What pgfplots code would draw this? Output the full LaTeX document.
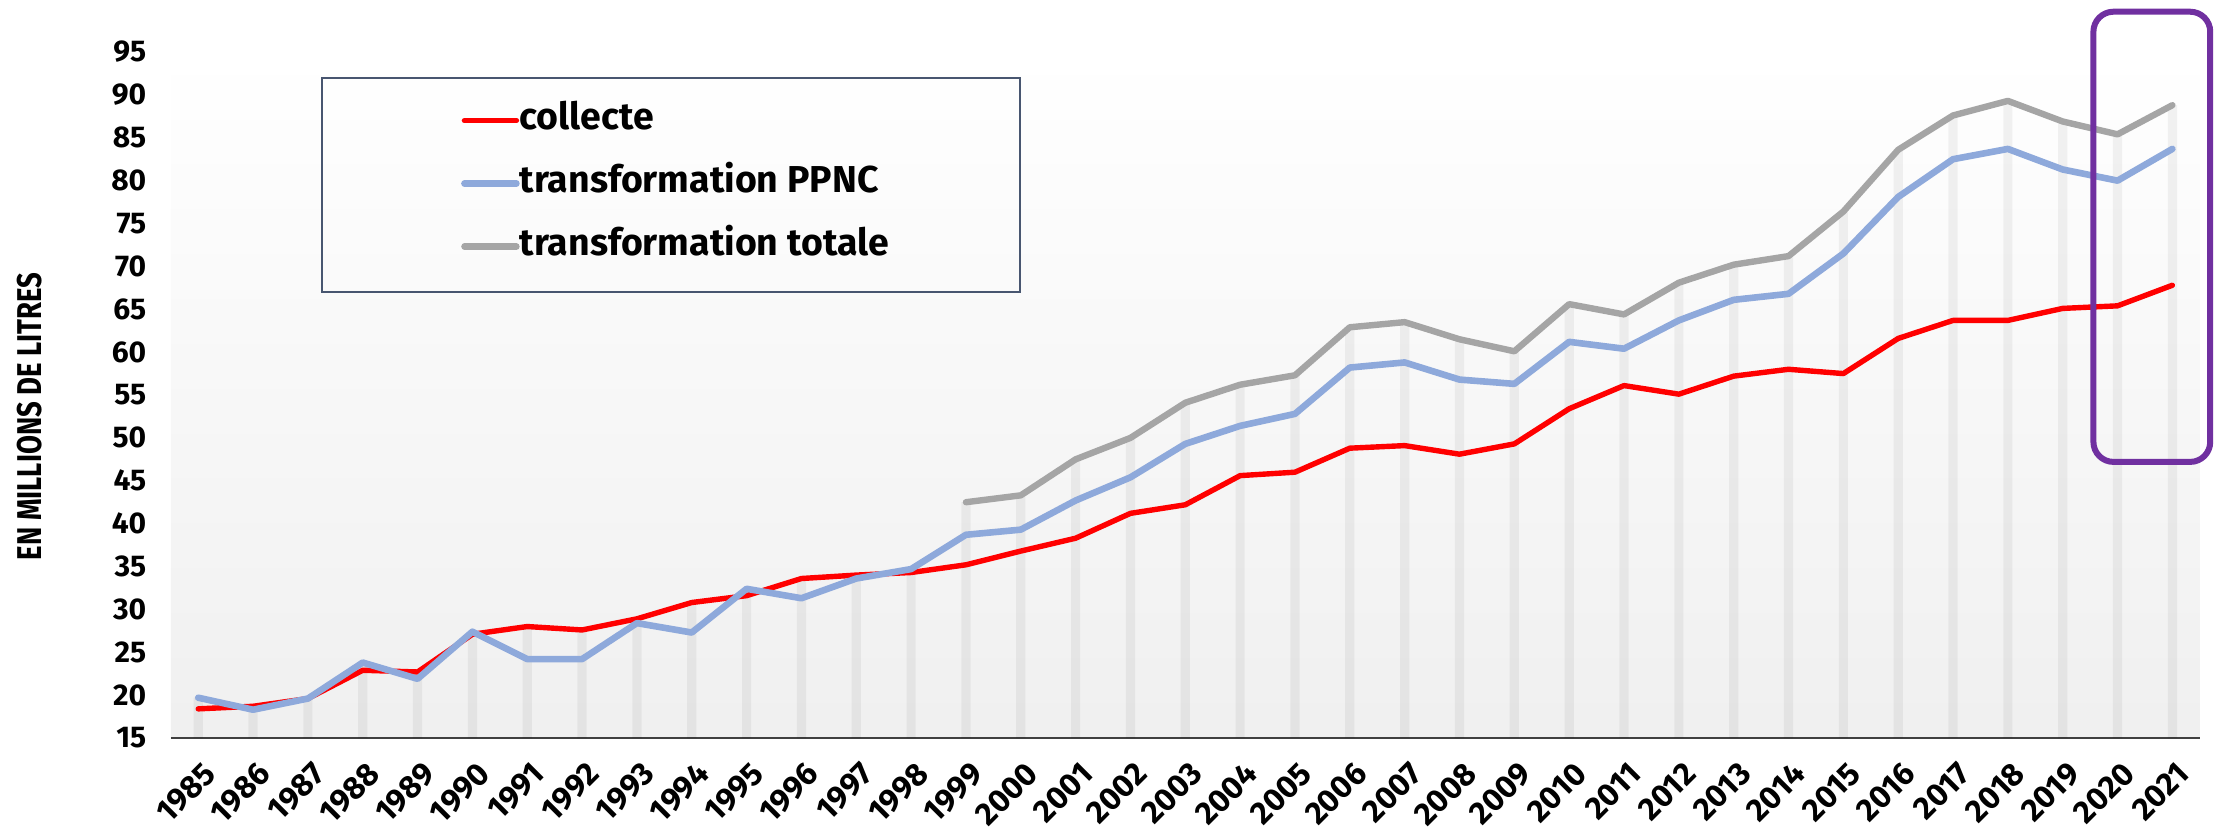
\documentclass[border=0pt]{standalone}
\usepackage{fontspec}
\setmainfont{Fira Sans}
\newfontfamily\narrowsans[FakeStretch=0.8]{Fira Sans}
\usepackage{pgfplots}
\usepackage{pgfplotstable}
\pgfplotsset{compat=1.18}

\definecolor{collred}{HTML}{FF0000}
\definecolor{ppncblue}{HTML}{8EA9DB}
\definecolor{totgray}{HTML}{A5A5A5}
\definecolor{boxpurple}{HTML}{7030A0}
\definecolor{legframe}{HTML}{485670}

% millions de litres
\pgfplotstableread{
year collecte ppnc totale haut
1985 18.4 19.7 nan 19.7
1986 18.7 18.3 nan 18.7
1987 19.6 19.6 nan 19.6
1988 22.9 23.8 nan 23.8
1989 22.7 21.9 nan 22.7
1990 27.1 27.4 nan 27.4
1991 28.0 24.2 nan 28.0
1992 27.6 24.2 nan 27.6
1993 28.9 28.4 nan 28.9
1994 30.8 27.3 nan 30.8
1995 31.6 32.4 nan 32.4
1996 33.6 31.3 nan 33.6
1997 34.0 33.6 nan 34.0
1998 34.3 34.7 nan 34.7
1999 35.2 38.7 42.5 42.5
2000 36.8 39.3 43.3 43.3
2001 38.3 42.7 47.5 47.5
2002 41.2 45.4 50.0 50.0
2003 42.2 49.3 54.1 54.1
2004 45.6 51.4 56.2 56.2
2005 46.0 52.8 57.3 57.3
2006 48.8 58.2 62.9 62.9
2007 49.1 58.8 63.5 63.5
2008 48.1 56.8 61.5 61.5
2009 49.3 56.3 60.1 60.1
2010 53.4 61.2 65.6 65.6
2011 56.1 60.4 64.4 64.4
2012 55.1 63.7 68.1 68.1
2013 57.2 66.1 70.2 70.2
2014 58.0 66.8 71.2 71.2
2015 57.5 71.5 76.4 76.4
2016 61.6 78.1 83.6 83.6
2017 63.7 82.5 87.6 87.6
2018 63.7 83.7 89.3 89.3
2019 65.1 81.3 86.9 86.9
2020 65.4 80.0 85.4 85.4
2021 67.8 83.7 88.8 88.8
}\lait

\begin{document}
\begin{tikzpicture}
\begin{axis}[
  scale only axis,
  width=507.25pt,
  height=171.5pt,
  xmin=1984.5, xmax=2021.5,
  ymin=15, ymax=95,
  xtick={1985,...,2021},
  ytick={15,20,...,95},
  clip mode=individual,
  axis x line*=bottom,
  axis y line*=left,
  y axis line style={draw=none},
  x axis line style={-, black!75, line width=0.6pt},
  major tick length=0pt,
  axis background/.style={shade, top color=white, bottom color=black!6},
  /pgf/number format/1000 sep={},
  /pgf/number format/assume math mode=true,
  yticklabel style={anchor=east, xshift=-2.6pt, font=\fontsize{7.5}{9}\selectfont\bfseries},
  xticklabel style={xshift=3pt, yshift=-1.2pt, rotate=45, anchor=east, inner sep=0pt,
    text depth=0pt, font=\fontsize{8}{9.6}\selectfont\bfseries},
  xticklabel shift=6.2pt,
  ylabel={EN MILLIONS DE LITRES},
  ylabel style={at={(rel axis cs:-0.0694,0.469)}, anchor=center,
    font=\narrowsans\fontsize{8.6}{10}\selectfont\bfseries},
  legend style={at={(rel axis cs:0.1427,0.926)}, anchor=north west,
    draw=none, fill=none, inner sep=0pt, row sep=7.25pt, column sep=0pt,
    font=\fontsize{9.36}{11}\selectfont\bfseries,
    nodes={inner sep=0pt, text height=6.5pt, text depth=2pt}},
  legend cell align=left,
  legend image code/.code={\draw[#1] (0pt,0pt) -- (13pt,0pt);},
  every axis plot/.append style={line cap=round, line join=round},
]
\addplot[ybar, bar width=2.3pt, draw=none, fill=black, fill opacity=0.05, forget plot]
  table[x=year, y=haut] {\lait};
\addplot[collred, line width=1.35pt] table[x=year, y=collecte] {\lait};
\addlegendentry{collecte}
\addplot[ppncblue, line width=1.65pt] table[x=year, y=ppnc] {\lait};
\addlegendentry{transformation PPNC}
\addplot[totgray, line width=1.6pt] table[x=year, y=totale] {\lait};
\addlegendentry{transformation totale}
\draw[boxpurple, line width=1.5pt, rounded corners=5pt]
  (axis cs:2019.56,47.2) rectangle (axis cs:2021.69,99.7);
\end{axis}
\draw[legframe, line width=0.5pt]
  ([shift={(37.8pt,111.5pt)}]current axis.south west) rectangle
  ([shift={(212.3pt,165pt)}]current axis.south west);
\pgfresetboundingbox
\path ([shift={(-42.7pt,-22.5pt)}]current axis.south west) rectangle
  ([shift={(511.05pt,184.5pt)}]current axis.south west);
\end{tikzpicture}
\end{document}
